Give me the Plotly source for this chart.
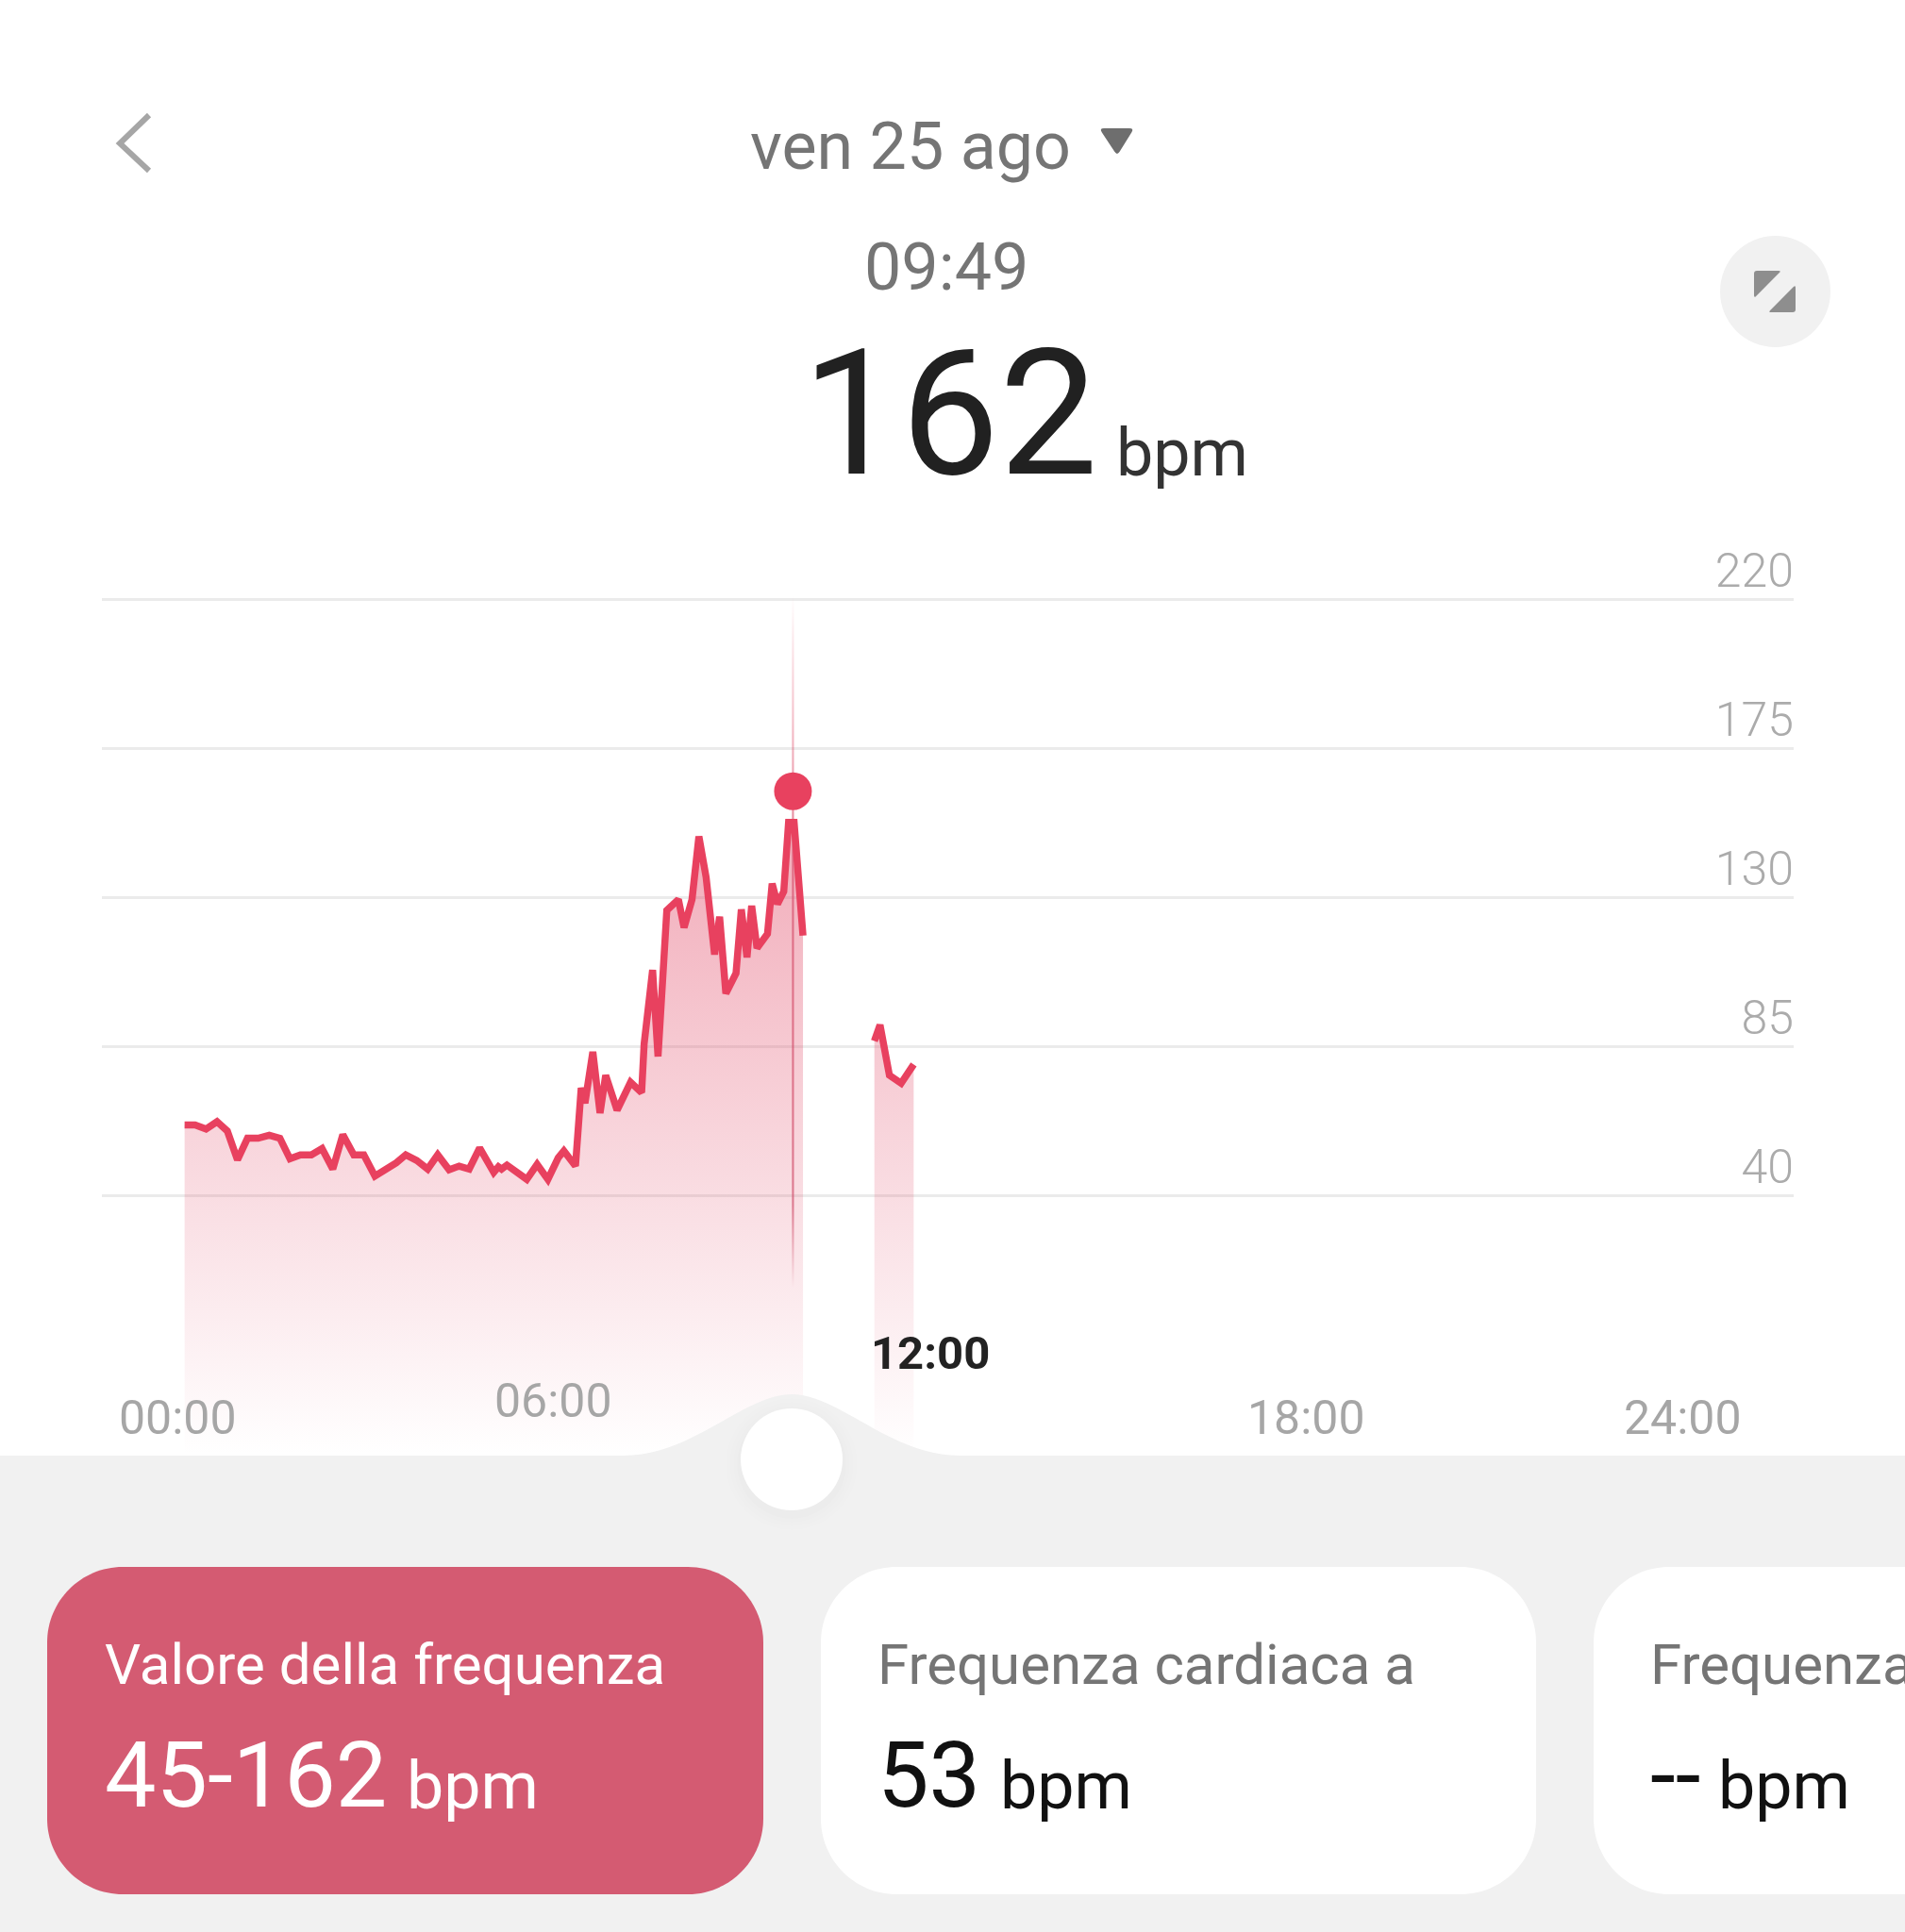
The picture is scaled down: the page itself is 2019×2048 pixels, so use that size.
import plotly.graph_objects as go

W, H = 2019, 2048

# ---------- data ----------
minutes_a = [6.9, 16.9, 27.4, 37.9, 47.8, 57.5, 67.1, 77.3, 87.9, 98.1, 107.7, 117.7, 128.2, 138.4,
             148.7, 158.3, 168.8, 178.4, 189.0, 198.9, 209.4, 218.5, 229.0, 239.5, 249.1, 260.0,
             269.6, 279.2, 289.2, 302.7, 307.2, 310.2, 315.3, 334.3, 344.2, 354.5, 364.4, 369.8,
             380.9, 386.4, 390.0, 397.5, 404.4, 409.8, 420.7, 433.6, 444.2, 446.6, 454.7, 459.9,
             468.3, 479.4, 484.8, 492.4, 499.0, 505.9, 514.0, 518.8, 524.8, 534.5, 539.6, 545.0,
             549.5, 554.6, 564.6, 569.1, 574.2, 580.2, 584.8, 590.1, 596.2, 598.6]
bpm_a = [61.2, 61.2, 60.0, 62.2, 59.4, 50.7, 57.2, 57.2, 58.1, 57.2, 51.0, 52.2, 52.2, 54.1,
         47.9, 58.3, 52.2, 52.2, 45.8, 47.5, 49.8, 52.2, 50.5, 47.9, 52.2, 47.7,
         48.8, 47.9, 54.3, 46.9, 48.6, 47.9, 49.1, 44.8, 49.3, 44.8, 51.3, 53.4,
         48.8, 72.4, 67.8, 83.3, 64.8, 76.2, 65.7, 74.1, 71.0, 85.7, 108.0, 81.9,
         126.0, 129.3, 120.8, 129.3, 148.3, 136.0, 112.7, 124.1, 100.9, 107.0, 126.3, 111.8,
         127.4, 114.6, 118.9, 134.1, 127.9, 131.7, 152.6, 152.6, 125.5, 118.4]
minutes_b = [666.9, 672.3, 681.3, 692.5, 704.5]
bpm_b = [86.6, 91.4, 76.2, 73.8, 79.5]

selected_minute = 589
selected_bpm = 162
y_ticks = [40, 85, 130, 175, 220]
x_tick_hours = [0, 6, 12, 18, 24]
x_tick_labels = ["00:00", "06:00", "12:00", "18:00", "24:00"]

RED = "#E8415F"
FONT = "Roboto"

# ---------- pixel helpers for the app chrome ----------
def px(x):
    return x / W

def py(y):
    return 1 - y / H

def hours(m):
    return [v / 60 for v in m]

# Axis calibration (pixel position of the plot box)
PLOT_L, PLOT_R, PLOT_T, PLOT_B = 108, 1901, 540, 1545
X_RANGE = [(PLOT_L - 188) / 66.46, (PLOT_R - 188) / 66.46]
Y_RANGE = [40 - (PLOT_B - 1267) / 3.511, 40 + (1267 - PLOT_T) / 3.511]
BASE = Y_RANGE[0] + 1

grad = dict(type="vertical", start=BASE, stop=160,
            colorscale=[[0, "rgba(225,70,100,0)"], [1, "rgba(225,70,100,0.47)"]])

fig = go.Figure()

for m, b in ((minutes_a, bpm_a), (minutes_b, bpm_b)):
    xs = hours(m)
    fig.add_trace(go.Scatter(x=xs + [xs[-1], xs[0], xs[0]], y=b + [BASE, BASE, b[0]],
                             mode="none", fill="toself", fillgradient=grad,
                             hoverinfo="skip", showlegend=False))

# cursor line
cx = selected_minute / 60
dx = 0.016
fig.add_trace(go.Scatter(
    x=[cx - dx, cx + dx, cx + dx, cx - dx, cx - dx],
    y=[221, 221, 12, 12, 221],
    mode="none", fill="toself", hoverinfo="skip", showlegend=False,
    fillgradient=dict(type="vertical", start=12, stop=221,
                      colorscale=[[0, "rgba(205,70,100,0)"], [0.12, "rgba(205,70,100,0.65)"],
                                  [0.65, "rgba(214,70,100,0.65)"], [1, "rgba(232,65,95,0)"]])))

for m, b in ((minutes_a, bpm_a), (minutes_b, bpm_b)):
    fig.add_trace(go.Scatter(x=hours(m), y=b, mode="lines",
                             line=dict(color=RED, width=7.5), hoverinfo="skip", showlegend=False))

fig.add_trace(go.Scatter(x=[cx], y=[selected_bpm], mode="markers",
                         marker=dict(color=RED, size=40), hoverinfo="skip", showlegend=False))

# ---------- chrome shapes ----------
shapes = []

def rect_round(x0, y0, x1, y1, r, fill):
    k = r * 0.45
    d = (f"M{px(x0+r)},{py(y0)} L{px(x1-r)},{py(y0)} "
         f"C{px(x1-k)},{py(y0)} {px(x1)},{py(y0+k)} {px(x1)},{py(y0+r)} "
         f"L{px(x1)},{py(y1-r)} C{px(x1)},{py(y1-k)} {px(x1-k)},{py(y1)} {px(x1-r)},{py(y1)} "
         f"L{px(x0+r)},{py(y1)} C{px(x0+k)},{py(y1)} {px(x0)},{py(y1-k)} {px(x0)},{py(y1-r)} "
         f"L{px(x0)},{py(y0+r)} C{px(x0)},{py(y0+k)} {px(x0+k)},{py(y0)} {px(x0+r)},{py(y0)} Z")
    shapes.append(dict(type="path", xref="paper", yref="paper", path=d,
                       fillcolor=fill, line=dict(width=0), layer="above"))

def tri_round(pts, r, fill):
    n = len(pts)
    d = ""
    for i in range(n):
        p, c, q = pts[i - 1], pts[i], pts[(i + 1) % n]
        def toward(a, b):
            L = ((b[0]-a[0])**2 + (b[1]-a[1])**2) ** 0.5
            return (a[0] + (b[0]-a[0]) * r / L, a[1] + (b[1]-a[1]) * r / L)
        s, e = toward(c, p), toward(c, q)
        d += ("M" if i == 0 else "L") + f"{px(s[0])},{py(s[1])} Q{px(c[0])},{py(c[1])} {px(e[0])},{py(e[1])} "
    shapes.append(dict(type="path", xref="paper", yref="paper", layer="above", path=d + "Z",
                       fillcolor=fill, line=dict(width=0)))

# grey panel with bump
pt, bump = 1543, 1478
bx = 839
panel = (f"M0,{py(pt)} L{px(bx-178)},{py(pt)} "
         f"C{px(bx-105)},{py(pt)} {px(bx-50)},{py(bump)} {px(bx)},{py(bump)} "
         f"C{px(bx+50)},{py(bump)} {px(bx+105)},{py(pt)} {px(bx+178)},{py(pt)} "
         f"L1,{py(pt)} L1,0 L0,0 Z")
shapes.append(dict(type="path", xref="paper", yref="paper", path=panel,
                   fillcolor="#F1F1F1", line=dict(width=0), layer="above"))

# knob shadow + knob
for r, op in ((70, 0.003), (66, 0.004), (62, 0.005), (58, 0.007)):
    shapes.append(dict(type="circle", xref="paper", yref="paper", layer="above",
                       x0=px(bx-r), x1=px(bx+r), y0=py(1552+r), y1=py(1552-r),
                       fillcolor=f"rgba(0,0,0,{op})", line=dict(width=0)))
shapes.append(dict(type="circle", xref="paper", yref="paper", layer="above",
                   x0=px(bx-54), x1=px(bx+54), y0=py(1547+54), y1=py(1547-54),
                   fillcolor="#FFFFFF", line=dict(width=0)))

# cards
rect_round(50, 1661, 809, 2008, 80, "#D45B72")
rect_round(870, 1661, 1628, 2008, 80, "#FFFFFF")
rect_round(1689, 1661, 2100, 2008, 80, "#FFFFFF")

# back chevron
shapes.append(dict(type="path", xref="paper", yref="paper", layer="above",
                   path=f"M{px(158)},{py(122)} L{px(127)},{py(152)} L{px(158)},{py(181)}",
                   line=dict(color="#A6A6A6", width=6)))
# dropdown triangle
tri_round([(1165, 136), (1202, 136), (1184, 165)], 5, "#6E6E6E")
# expand button
shapes.append(dict(type="circle", xref="paper", yref="paper", layer="above",
                   x0=px(1823), x1=px(1940), y0=py(368), y1=py(250),
                   fillcolor="#F1F1F1", line=dict(width=0)))
tri_round([(1859, 287), (1888, 287), (1859, 316)], 3, "#8E8E8E")
tri_round([(1903, 302), (1903, 331), (1874, 331)], 3, "#8E8E8E")

# ---------- text ----------
ann = []

def text(x, y, s, size, color, anchor="left"):
    ann.append(dict(x=px(x), y=py(y), xref="paper", yref="paper", text=s, showarrow=False,
                    xanchor=anchor, yanchor="middle",
                    font=dict(family=FONT, size=size, color=color)))

text(793, 155, "ven 25 ago", 70, "#757575")
text(1003, 283, "09:49", 70, "#757575", "center")
text(848, 438, "162", 186, "#212121")
text(1181, 480, "bpm", 70, "#333333")

text(109, 1764, "Valore della frequenza", 60, "#FFFFFF")
text(109, 1882, "45-162", 97, "#FFFFFF")
text(429, 1893, "bpm", 70, "#FFFFFF")
text(928, 1764, "Frequenza cardiaca a", 60, "#757575")
text(928, 1882, "53", 97, "#111111")
text(1058, 1893, "bpm", 70, "#111111")
text(1747, 1764, "Frequenza cardiaca", 60, "#757575")
text(1747, 1882, "--", 97, "#111111")
text(1819, 1893, "bpm", 70, "#111111")

label_y = [1503, 1485, 1434, 1503, 1503]
for h, lab, ly in zip(x_tick_hours, x_tick_labels, label_y):
    sel = lab == "12:00"
    ann.append(dict(x=h, xref="x", y=py(ly), yref="paper", showarrow=False,
                    text=f"<b>{lab}</b>" if sel else lab, xanchor="center", yanchor="middle",
                    font=dict(family=FONT, size=49 if sel else 50, color="#222222" if sel else "#A6A6A6")))

fig.update_layout(
    width=W, height=H, margin=dict(l=0, r=0, t=0, b=0),
    paper_bgcolor="#FFFFFF", plot_bgcolor="rgba(0,0,0,0)", showlegend=False,
    xaxis=dict(domain=[px(PLOT_L), px(PLOT_R)], range=X_RANGE, showgrid=False, zeroline=False,
               showticklabels=False, ticks="", fixedrange=True),
    yaxis=dict(domain=[py(PLOT_B), py(PLOT_T)], range=Y_RANGE, side="right", tickvals=y_ticks,
               ticklabelposition="inside top", ticklabelshift=4, ticklabelstandoff=-3,
               showgrid=True, gridcolor="#EBEBEB", gridwidth=3,
               zeroline=False, ticks="", fixedrange=True,
               tickfont=dict(family=FONT, size=50, color="#ABABAB", weight=300)),
    shapes=shapes, annotations=ann,
)

fig.write_html("out.html", config={"displayModeBar": False},
               post_script="document.body.style.margin='0';document.body.style.overflow='hidden';")
